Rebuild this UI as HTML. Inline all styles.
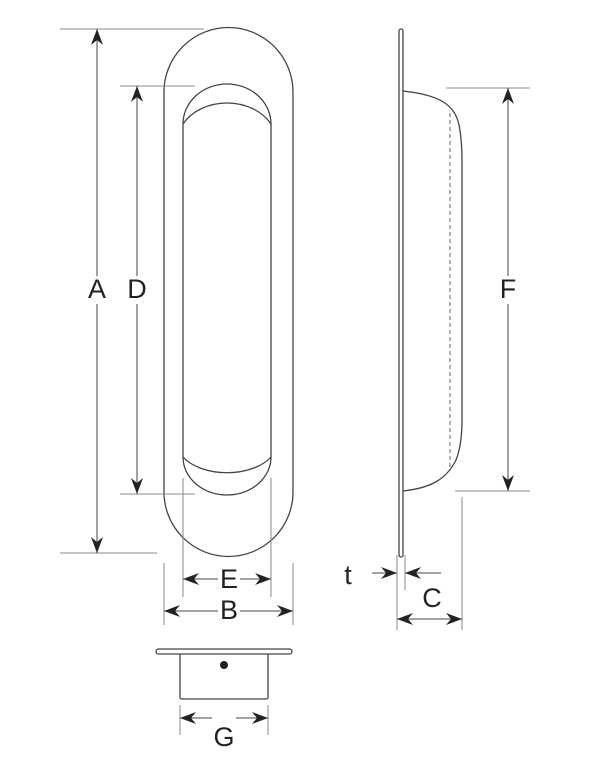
<!DOCTYPE html>
<html><head><meta charset="utf-8"><style>
html,body{margin:0;padding:0;background:#fff;}
svg{display:block}
text{font-family:"Liberation Sans",sans-serif;font-size:27px;fill:#222;text-anchor:middle;dominant-baseline:middle}
</style></head><body>
<svg width="600" height="766" viewBox="0 0 600 766" xmlns="http://www.w3.org/2000/svg">
<defs>
<marker id="ar" viewBox="0 0 16 12" refX="16" refY="6" markerWidth="16" markerHeight="12" markerUnits="userSpaceOnUse" orient="auto-start-reverse">
<path d="M0,0 L16,6 L0,12 L5,6 Z" fill="#222"/>
</marker>
</defs>
<g fill="none" stroke="#444" stroke-width="1.3">
<!-- front plate -->
<path d="M164,92 A64.5,64.5 0 0 1 293,92 L293,492 A64.5,64.5 0 0 1 164,492 Z"/>
<!-- pocket -->
<path d="M183,124 A44,40 0 0 1 271,124 L271,457 A44,38 0 0 1 183,457 Z"/>
<path d="M183,124 A50,40 0 0 1 271,124"/>
<path d="M183,457 A50,30 0 0 0 271,457"/>
<!-- side view -->
<rect x="399" y="29" width="4" height="528" rx="2"/>
<path d="M403,91 C440,95 455,105 459,125 Q462,140 462,160 L462,420 Q462,445 456,460 C446,480 430,488 403,491"/>
<!-- bottom view -->
<rect x="156" y="649" width="136" height="5" rx="2.5"/>
<path d="M180,654 L180,697 Q180,699 182,699 L266,699 Q268,699 268,697 L268,654"/>
</g>
<line x1="450" y1="113" x2="450" y2="470" stroke="#666" stroke-width="1" stroke-dasharray="4,3"/>
<circle cx="224" cy="665" r="4" fill="#222"/>
<g stroke="#888" stroke-width="1" fill="none">
<!-- extension lines -->
<line x1="60" y1="29" x2="204" y2="29"/>
<line x1="60" y1="553" x2="157" y2="553"/>
<line x1="120" y1="86" x2="195" y2="86"/>
<line x1="120" y1="494" x2="195" y2="494"/>
<line x1="183" y1="478" x2="183" y2="597"/>
<line x1="271" y1="478" x2="271" y2="597"/>
<line x1="164" y1="563" x2="164" y2="625"/>
<line x1="293" y1="563" x2="293" y2="625"/>
<line x1="180" y1="705" x2="180" y2="735"/>
<line x1="268" y1="705" x2="268" y2="735"/>
<line x1="446" y1="88" x2="530" y2="88"/>
<line x1="455" y1="491" x2="530" y2="491"/>
<line x1="397" y1="555" x2="397" y2="630"/>
<line x1="405" y1="555" x2="405" y2="590"/>
<line x1="462" y1="497" x2="462" y2="630"/>
</g>
<g stroke="#444" stroke-width="1" fill="none">
<line x1="97" y1="29" x2="97" y2="553" marker-start="url(#ar)" marker-end="url(#ar)"/>
<line x1="137" y1="86" x2="137" y2="494" marker-start="url(#ar)" marker-end="url(#ar)"/>
<line x1="508" y1="88" x2="508" y2="491" marker-start="url(#ar)" marker-end="url(#ar)"/>
<line x1="183" y1="579" x2="271" y2="579" marker-start="url(#ar)" marker-end="url(#ar)"/>
<line x1="164" y1="611" x2="293" y2="611" marker-start="url(#ar)" marker-end="url(#ar)"/>
<line x1="180" y1="718" x2="268" y2="718" marker-start="url(#ar)" marker-end="url(#ar)"/>
<line x1="397" y1="619" x2="462" y2="619" marker-start="url(#ar)" marker-end="url(#ar)"/>
<line x1="372" y1="573" x2="397" y2="573" marker-end="url(#ar)"/>
<line x1="441" y1="573" x2="405" y2="573" marker-end="url(#ar)"/>
</g>
<g>
<rect x="86" y="276" width="22" height="28" fill="#fff"/>
<rect x="126" y="276" width="22" height="28" fill="#fff"/>
<rect x="497" y="276" width="22" height="28" fill="#fff"/>
<rect x="218" y="566" width="22" height="28" fill="#fff"/>
<rect x="218" y="598" width="22" height="28" fill="#fff"/>
<rect x="212" y="706" width="24" height="26" fill="#fff"/>
<text x="97" y="291">A</text>
<text x="137" y="291">D</text>
<text x="508" y="291">F</text>
<text x="229" y="581">E</text>
<text x="229" y="612">B</text>
<text x="224" y="739">G</text>
<text x="432" y="600">C</text>
<text x="348" y="577">t</text>
</g>
</svg>
</body></html>
